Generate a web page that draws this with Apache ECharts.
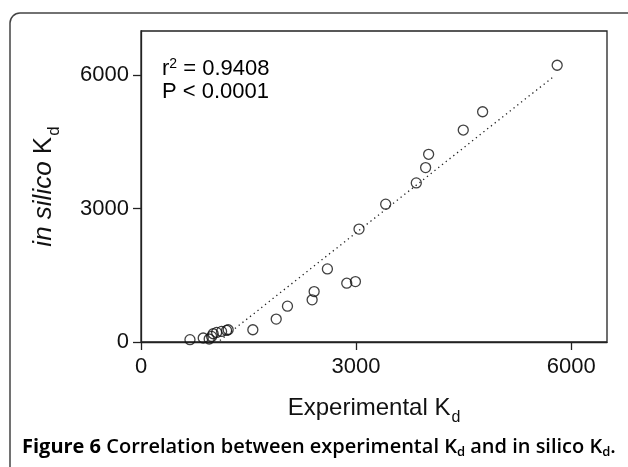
<!DOCTYPE html>
<html>
	<head>
		<meta charset="UTF-8">
		<title>Figure 6</title>
		<script src="https://cdn.jsdelivr.net/npm/echarts@6/dist/echarts.min.js"></script>
		<style>
			html, body { margin: 0; padding: 0; background: #fff; }
		</style>
	</head>
	<body>
		<div id="chart" style="width: 628px; height: 467px;"></div>
		<script type="text/javascript">
			// experimental Kd (x) vs in silico Kd (y)
			var expKd = [683, 868, 951, 985, 1007, 1055, 1124, 1194, 1216, 1560, 1886, 2043, 2387, 2415, 2600, 2870, 2991, 3041, 3413, 3840, 3970, 4012, 4495, 4765, 5805];
			var silicoKd = [52, 90, 67, 126, 186, 215, 238, 260, 276, 276, 516, 807, 949, 1136, 1645, 1323, 1360, 2542, 3103, 3581, 3926, 4225, 4771, 5183, 6229];
			// regression line ends
			var fitX = [1100, 5750];
			var fitY = [34, 5967];
			var tickValues = [0, 3000, 6000];

			var points = expKd.map(function(x, i) { return [x, silicoKd[i]]; });
			var fitLine = fitX.map(function(x, i) { return [x, fitY[i]]; });

			var chart = echarts.init(document.getElementById('chart'));
			var tickFont = { fontFamily: 'Liberation Sans', fontSize: 22, color: '#111' };
			var plain = function(v) { return String(v); };

			chart.setOption({
				animation: false,
				grid: {
					left: 141, top: 31, right: 21, bottom: 125,
					show: true, borderColor: '#222', borderWidth: 1.3
				},
				xAxis: {
					type: 'value', min: 0, max: 6500,
					splitLine: { show: false },
					axisLine: { onZero: false, lineStyle: { color: '#222', width: 1.3 } },
					axisTick: { customValues: tickValues, length: 8, lineStyle: { color: '#222', width: 1.3 } },
					axisLabel: Object.assign({ customValues: tickValues, margin: 14, formatter: plain }, tickFont),
					name: '{n|Experimental K}{s|d}',
					nameLocation: 'middle',
					nameGap: 54,
					nameTextStyle: {
						rich: {
							n: { fontFamily: 'Liberation Sans', fontSize: 24, color: '#111', lineHeight: 30, verticalAlign: 'top' },
							s: { fontFamily: 'Liberation Sans', fontSize: 16, color: '#111', lineHeight: 30, padding: [14, 0, 0, 1], verticalAlign: 'top' }
						}
					}
				},
				yAxis: {
					type: 'value', min: 0, max: 7000,
					splitLine: { show: false },
					axisLine: { onZero: false, lineStyle: { color: '#222', width: 1.3 } },
					axisTick: { customValues: tickValues, length: 8, lineStyle: { color: '#222', width: 1.3 } },
					axisLabel: Object.assign({ customValues: tickValues, margin: 12, formatter: plain }, tickFont),
					name: '{i|in silico }{n|K}{s|d}',
					nameLocation: 'middle',
					nameGap: 78,
					nameTextStyle: {
						rich: {
							i: { fontFamily: 'Liberation Sans', fontStyle: 'italic', fontSize: 26, color: '#111', lineHeight: 32, verticalAlign: 'top' },
							n: { fontFamily: 'Liberation Sans', fontSize: 26, color: '#111', lineHeight: 32, verticalAlign: 'top' },
							s: { fontFamily: 'Liberation Sans', fontSize: 17, color: '#111', lineHeight: 32, padding: [15, 0, 0, 1], verticalAlign: 'top' }
						}
					}
				},
				series: [{
					type: 'line',
					data: fitLine,
					symbol: 'none',
					silent: true,
					lineStyle: { color: '#222', width: 1.3, type: [1.3, 3.5] },
					z: 1
				}, {
					type: 'scatter',
					data: points,
					symbol: 'circle',
					symbolSize: 10,
					itemStyle: { color: 'rgba(255,255,255,0)', borderColor: '#111', borderWidth: 1.3 },
					z: 2
				}],
				graphic: [{
					type: 'rect',
					shape: { x: 10, y: 13, width: 660, height: 500, r: 10 },
					style: { fill: null, stroke: '#444', lineWidth: 1.5 },
					silent: true
				}, {
					type: 'text',
					left: 162, top: 57,
					style: {
						text: '{n|r}{p|2}{n| = 0.9408}\n{n|P < 0.0001}',
						rich: {
							n: { fontFamily: 'Liberation Sans', fontSize: 22, color: '#111', lineHeight: 23 },
							p: { fontFamily: 'Liberation Sans', fontSize: 14, color: '#111', lineHeight: 23, padding: [0, 0, 10, 0] }
						}
					}
				}, {
					type: 'text',
					left: 22, top: 437,
					style: {
						text: '{b|Figure 6 }{m|Correlation between experimental K}{s|d}{m| and in silico K}{s|d}{m|.}',
						rich: {
							b: { fontFamily: 'Open Sans', fontWeight: 'bold', fontSize: 20, color: '#2a2a2a', lineHeight: 26, verticalAlign: 'top' },
							m: { fontFamily: 'Open Sans', fontWeight: 600, fontSize: 20, color: '#2a2a2a', lineHeight: 26, verticalAlign: 'top' },
							s: { fontFamily: 'Open Sans', fontWeight: 600, fontSize: 13, color: '#2a2a2a', lineHeight: 26, padding: [9, 0, 0, 0], verticalAlign: 'top' }
						}
					}
				}]
			});
		</script>
	</body>
</html>
